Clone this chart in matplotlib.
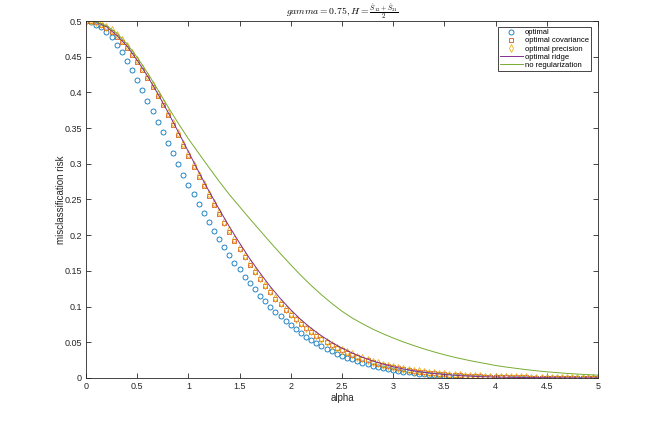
import numpy as np
import matplotlib
matplotlib.use("Agg")
import matplotlib.pyplot as plt

plt.rcParams['font.family'] = ['Liberation Sans', 'DejaVu Sans']
plt.rcParams['mathtext.fontset'] = 'cm'

# alpha grid used for the marker series (step 0.05) and the lines (step 0.1)
alpha = np.linspace(0, 5, 101)
alpha_line = np.linspace(0, 5, 51)

optimal = [
    0.5000, 0.4985, 0.4950, 0.4910, 0.4840, 0.4770, 0.4665, 0.4560, 0.4440, 0.4310,
    0.4170, 0.4030, 0.3880, 0.3740, 0.3590, 0.3440, 0.3290, 0.3150, 0.3000, 0.2850,
    0.2710, 0.2580, 0.2440, 0.2310, 0.2185, 0.2065, 0.1940, 0.1830, 0.1720, 0.1610,
    0.1520, 0.1420, 0.1330, 0.1240, 0.1150, 0.1080, 0.1000, 0.0930, 0.0870, 0.0800,
    0.0740, 0.0680, 0.0630, 0.0575, 0.0530, 0.0486, 0.0444, 0.0406, 0.0374, 0.0340,
    0.0312, 0.0285, 0.0262, 0.0238, 0.0214, 0.0192, 0.0172, 0.0154, 0.0138, 0.0124,
    0.0111, 0.0099, 0.0088, 0.0078, 0.0069, 0.0061, 0.0054, 0.0048, 0.0042, 0.0037,
    0.0033, 0.0029, 0.0025, 0.0022, 0.0019, 0.0017, 0.0015, 0.0013, 0.0011, 0.0010,
    0.0009, 0.0008, 0.0007, 0.0006, 0.0005, 0.00045, 0.0004, 0.00035, 0.0003, 0.00026,
    0.00022, 0.0002, 0.00017, 0.00015, 0.00013, 0.00011, 0.0001, 0.00009, 0.00008, 0.00007,
    0.00006]

opt_cov = [
    0.5000, 0.4995, 0.4980, 0.4950, 0.4906, 0.4850, 0.4780, 0.4710, 0.4626, 0.4520,
    0.4420, 0.4310, 0.4200, 0.4080, 0.3950, 0.3820, 0.3680, 0.3540, 0.3400, 0.3250,
    0.3110, 0.2960, 0.2815, 0.2685, 0.2555, 0.2425, 0.2297, 0.2165, 0.2045, 0.1920,
    0.1800, 0.1695, 0.1587, 0.1485, 0.1387, 0.1289, 0.1200, 0.1110, 0.1032, 0.0957,
    0.0887, 0.0822, 0.0757, 0.0696, 0.0644, 0.0592, 0.0546, 0.0500, 0.0458, 0.0420,
    0.0388, 0.0355, 0.0325, 0.0296, 0.0270, 0.0245, 0.0223, 0.0202, 0.0183, 0.0166,
    0.0150, 0.0135, 0.0122, 0.0110, 0.0099, 0.0089, 0.0080, 0.0071, 0.0064, 0.0057,
    0.0051, 0.0045, 0.0040, 0.0036, 0.0032, 0.0028, 0.0025, 0.0022, 0.0019, 0.0017,
    0.0015, 0.0013, 0.0011, 0.0010, 0.0009, 0.0008, 0.0007, 0.0006, 0.0005, 0.00045,
    0.0004, 0.00035, 0.0003, 0.00026, 0.00022, 0.0002, 0.00017, 0.00015, 0.00013, 0.00011,
    0.0001]

opt_prec = [
    0.5000, 0.4997, 0.4985, 0.4960, 0.4920, 0.4870, 0.4800, 0.4730, 0.4650, 0.4550,
    0.4450, 0.4340, 0.4230, 0.4110, 0.3980, 0.3850, 0.3710, 0.3570, 0.3430, 0.3280,
    0.3140, 0.2990, 0.2845, 0.2712, 0.2580, 0.2450, 0.2320, 0.2190, 0.2068, 0.1943,
    0.1822, 0.1715, 0.1607, 0.1504, 0.1405, 0.1306, 0.1216, 0.1125, 0.1046, 0.0970,
    0.0899, 0.0833, 0.0767, 0.0705, 0.0652, 0.0600, 0.0553, 0.0506, 0.0464, 0.0425,
    0.0393, 0.0360, 0.0330, 0.0300, 0.0274, 0.0249, 0.0226, 0.0205, 0.0186, 0.0169,
    0.0153, 0.0138, 0.0124, 0.0112, 0.0101, 0.0091, 0.0082, 0.0073, 0.0065, 0.0058,
    0.0052, 0.0046, 0.0041, 0.0037, 0.0033, 0.0029, 0.0026, 0.0023, 0.0020, 0.0018,
    0.0016, 0.0014, 0.0012, 0.0011, 0.00095, 0.00085, 0.00075, 0.00065, 0.00055, 0.00048,
    0.00042, 0.00037, 0.00032, 0.00028, 0.00024, 0.00021, 0.00018, 0.00016, 0.00014, 0.00012,
    0.00011]

opt_ridge = [
    0.5000, 0.4985, 0.4920, 0.4800, 0.4650, 0.4450, 0.4230, 0.3985, 0.3725, 0.3450,
    0.3170, 0.2890, 0.2620, 0.2365, 0.2120, 0.1890, 0.1670, 0.1470, 0.1280, 0.1110,
    0.0955, 0.0815, 0.0695, 0.0590, 0.0497, 0.0418, 0.0350, 0.0290, 0.0238, 0.0195,
    0.0158, 0.0127, 0.0101, 0.0080, 0.0063, 0.0049, 0.0038, 0.0029, 0.0022, 0.0017,
    0.0013, 0.0010, 0.0008, 0.0006, 0.0005, 0.0004, 0.0003, 0.00025, 0.0002, 0.00015,
    0.0001]

no_reg = [
    0.5000, 0.4988, 0.4935, 0.4830, 0.4680, 0.4490, 0.4275, 0.4040, 0.3800, 0.3570,
    0.3350, 0.3150, 0.2950, 0.2755, 0.2570, 0.2400, 0.2230, 0.2065, 0.1900, 0.1740,
    0.1585, 0.1435, 0.1295, 0.1165, 0.1045, 0.0935, 0.0840, 0.0760, 0.0685, 0.0620,
    0.0560, 0.0505, 0.0455, 0.0408, 0.0365, 0.0326, 0.0290, 0.0258, 0.0229, 0.0203,
    0.0175, 0.0154, 0.0135, 0.0117, 0.0101, 0.0087, 0.0075, 0.0064, 0.0055, 0.0047,
    0.0040]

fig = plt.figure(figsize=(6.58, 4.26), dpi=100)
ax = fig.add_axes([0.1307, 0.1127, 0.778, 0.838])

mk = dict(linestyle='none', markerfacecolor='none', markeredgewidth=0.6)
ax.plot(alpha, optimal, marker='o', color='#0072BD', markersize=3.6, label='optimal', **mk)
ax.plot(alpha, opt_cov, marker='s', color='#D95319', markersize=3.2, label='optimal covariance', **mk)
ax.plot(alpha, opt_prec, marker='d', color='#EDB120', markersize=4.0, label='optimal precision', **mk)
ax.plot(alpha_line, opt_ridge, color='#7E2F8E', linewidth=0.7, label='optimal ridge')
ax.plot(alpha_line, no_reg, color='#77AC30', linewidth=0.7, label='no regularization')

ax.set_xlim(0, 5)
ax.set_ylim(0, 0.5)
ax.set_xticks(np.arange(0, 5.01, 0.5))
ax.set_xticklabels(['0', '0.5', '1', '1.5', '2', '2.5', '3', '3.5', '4', '4.5', '5'])
ax.set_yticks(np.arange(0, 0.501, 0.05))
ax.set_yticklabels(['0', '0.05', '0.1', '0.15', '0.2', '0.25', '0.3', '0.35', '0.4', '0.45', '0.5'])

for s in ax.spines.values():
    s.set_color('#262626')
    s.set_linewidth(0.6)
ax.tick_params(direction='in', length=3.5, width=0.6, colors='#262626',
               labelsize=6.5, top=True, right=True, pad=3)

ax.set_xlabel('alpha', fontsize=7, color='#262626', labelpad=1)
ax.set_ylabel('misclassification risk', fontsize=7, color='#262626', labelpad=-1)
ax.set_title(r'$gamma = 0.75, H = \frac{\hat{S}_{12}+\hat{S}_{21}}{2}$', fontsize=7, pad=4)

leg = ax.legend(loc='upper right', bbox_to_anchor=(0.986, 0.983), borderaxespad=0,
                fontsize=5.5, handlelength=3.0, handletextpad=0.3, labelspacing=0.1,
                borderpad=0.25, fancybox=False, framealpha=1)
leg.get_frame().set_edgecolor('#262626')
leg.get_frame().set_linewidth(0.6)

fig.savefig('out.png', dpi=100)
